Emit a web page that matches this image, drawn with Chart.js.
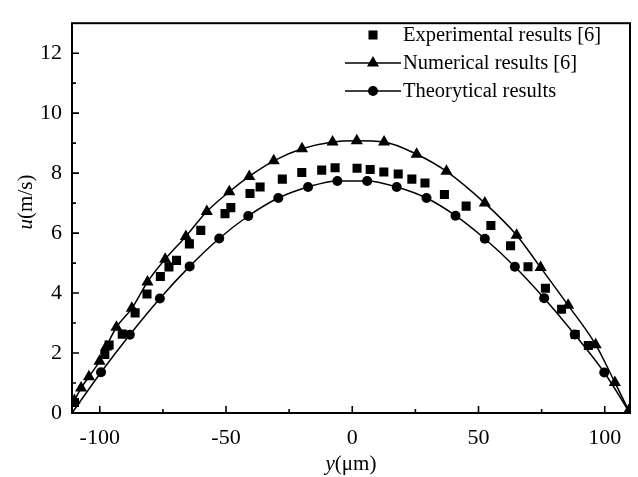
<!DOCTYPE html>
<html lang="en">
<head>
<meta charset="UTF-8">
<title>u - y profile</title>
<style>
  html, body { margin: 0; padding: 0; background: #fff; }
  .wrap { width: 638px; height: 477px; position: relative; }
</style>
</head>
<body>
<div class="wrap"><canvas id="velocityChart"></canvas></div>

<script src="https://cdn.jsdelivr.net/npm/chart.js"></script>
<script>
    // axis ticks
    const xTicks = [-100, -50, 0, 50, 100];
    const xMinorTicks = [-75, -25, 25, 75];
    const yTicks = [0, 2, 4, 6, 8, 10, 12];
    const yMinorTicks = [1, 3, 5, 7, 9, 11];

    const seriesLabels = ['Experimental results [6]', 'Numerical results [6]', 'Theorytical results'];

    // Experimental results [6]  (y in um, u in m/s)
    const expY = [-110, -98, -96.3, -91.1, -86, -81.3, -76, -72.6, -69.6, -64.5, -60, -50.4, -48.1, -40.5, -36.5,
                  -27.7, -20, -12.1, -6.8, 1.9, 7.1, 12.5, 18.2, 23.6, 28.8, 36.5, 45.1, 54.9, 62.7, 69.6,
                  76.5, 82.9, 88.3, 93.5];
    const expU = [0.35, 1.95, 2.27, 2.63, 3.34, 3.97, 4.55, 4.87, 5.09, 5.64, 6.09, 6.65, 6.85, 7.32, 7.54,
                  7.8, 8.02, 8.1, 8.18, 8.16, 8.12, 8.04, 7.97, 7.8, 7.67, 7.29, 6.9, 6.25, 5.58, 4.88,
                  4.16, 3.46, 2.62, 2.25];

    // Numerical results [6]
    const numY = [-110, -107.4, -104.3, -100.1, -97.5, -93.4, -87.3, -81.1, -74.1, -65.9, -57.6, -48.7, -40.8,
                  -31.1, -19.9, -7.8, 1.8, 12.6, 25.5, 37.3, 52.5, 65.1, 74.6, 85.5, 96.4, 104, 109.5];
    const numU = [0.42, 0.83, 1.21, 1.73, 2.2, 2.86, 3.49, 4.37, 5.13, 5.89, 6.72, 7.38, 7.89,
                  8.41, 8.81, 9.04, 9.08, 9.04, 8.63, 8.06, 7.0, 5.93, 4.85, 3.59, 2.28, 1.02, 0.08];

    // Theorytical results (first and last are the line ends, no marker)
    const theoY = [-111, -99.5, -88.1, -76.2, -64.4, -52.7, -41.2, -29.3, -17.5, -5.9,
                   5.9, 17.6, 29.4, 40.9, 52.5, 64.4, 76.0, 88.1, 99.8, 110];
    const theoU = [0, 1.36, 2.61, 3.82, 4.89, 5.82, 6.57, 7.17, 7.54, 7.74,
                   7.74, 7.54, 7.17, 6.58, 5.81, 4.88, 3.83, 2.62, 1.35, 0];

    const serif = '"Liberation Serif", "Times New Roman", serif';
    const toPoints = (xs, ys) => xs.map((x, i) => ({ x: x, y: ys[i] }));

    // writes text made of parts with different font styles, centred on (cx, cy)
    function drawMixed(ctx, parts, cx, cy) {
        let total = 0;
        parts.forEach(p => { ctx.font = p.font; total += ctx.measureText(p.text).width; });
        let x = cx - total / 2;
        ctx.textAlign = 'left';
        ctx.textBaseline = 'middle';
        parts.forEach(p => {
            ctx.font = p.font;
            ctx.fillText(p.text, x, cy);
            x += ctx.measureText(p.text).width;
        });
    }

    // frame, inward ticks, axis titles and legend
    const framePlugin = {
        id: 'frame',
        afterDraw(chart) {
            const ctx = chart.ctx;
            const a = chart.chartArea;
            const xs = chart.scales.x, ys = chart.scales.y;
            ctx.save();
            ctx.strokeStyle = '#000';
            ctx.fillStyle = '#000';

            ctx.lineWidth = 2;
            ctx.strokeRect(a.left, a.top, a.right - a.left, a.bottom - a.top);

            ctx.lineWidth = 1.6;
            ctx.beginPath();
            xTicks.forEach(v => { const p = xs.getPixelForValue(v); ctx.moveTo(p, a.bottom); ctx.lineTo(p, a.bottom - 7); });
            xMinorTicks.forEach(v => { const p = xs.getPixelForValue(v); ctx.moveTo(p, a.bottom); ctx.lineTo(p, a.bottom - 4); });
            yTicks.forEach(v => { const p = ys.getPixelForValue(v); ctx.moveTo(a.left, p); ctx.lineTo(a.left + 7, p); });
            yMinorTicks.forEach(v => { const p = ys.getPixelForValue(v); ctx.moveTo(a.left, p); ctx.lineTo(a.left + 4, p); });
            ctx.stroke();

            // axis titles
            drawMixed(ctx, [
                { text: 'y', font: 'italic 21px ' + serif },
                { text: '(\u03bcm)', font: '21px ' + serif }
            ], (a.left + a.right) / 2, 464);

            ctx.save();
            ctx.translate(26, 202);
            ctx.rotate(-Math.PI / 2);
            drawMixed(ctx, [
                { text: 'u', font: 'italic 21px ' + serif },
                { text: '(m/s)', font: '21px ' + serif }
            ], 0, 0);
            ctx.restore();

            // legend
            const rowY = [35, 63, 91];
            chart.data.datasets.forEach((ds, i) => {
                const y = rowY[i];
                if (ds.showLine) {
                    ctx.lineWidth = 1.5;
                    ctx.beginPath();
                    ctx.moveTo(345, y);
                    ctx.lineTo(401, y);
                    ctx.stroke();
                }
                Chart.helpers.drawPoint(ctx, {
                    pointStyle: ds.pointStyle, radius: ds.pointRadius instanceof Array ? 5 : ds.pointRadius,
                    rotation: 0, borderWidth: 0
                }, 373, y);
                ctx.font = '20.5px ' + serif;
                ctx.textAlign = 'left';
                ctx.textBaseline = 'middle';
                ctx.fillText(ds.label, 403, y + 1);
            });
            ctx.restore();
        }
    };

    const ctx = document.getElementById('velocityChart').getContext('2d');
    const chart = new Chart(ctx, {
        type: 'scatter',
        data: {
            datasets: [{
                label: seriesLabels[0],
                data: toPoints(expY, expU),
                showLine: false,
                pointStyle: 'rect',
                pointRadius: 6.4,
                pointBorderWidth: 0,
                backgroundColor: '#000',
                borderColor: '#000'
            }, {
                label: seriesLabels[1],
                data: toPoints(numY, numU),
                showLine: true,
                cubicInterpolationMode: 'monotone',
                borderWidth: 1.5,
                pointStyle: 'triangle',
                pointRadius: 7,
                pointBorderWidth: 0,
                backgroundColor: '#000',
                borderColor: '#000'
            }, {
                label: seriesLabels[2],
                data: toPoints(theoY, theoU),
                showLine: true,
                cubicInterpolationMode: 'monotone',
                borderWidth: 1.5,
                pointStyle: 'circle',
                pointRadius: theoY.map((v, i) => (i === 0 || i === theoY.length - 1) ? 0 : 5),
                pointBorderWidth: 0,
                backgroundColor: '#000',
                borderColor: '#000'
            }]
        },
        options: {
            responsive: true,
            maintainAspectRatio: false,
            animation: false,
            devicePixelRatio: 1,
            layout: { padding: { top: 10, right: 8, left: 0, bottom: 0 } },
            plugins: {
                legend: { display: false },
                tooltip: { enabled: false }
            },
            scales: {
                x: {
                    type: 'linear',
                    min: -111,
                    max: 110,
                    grid: { display: false, drawTicks: false },
                    border: { display: false },
                    ticks: { color: '#000', font: { family: serif, size: 22 }, padding: 12, maxRotation: 0 },
                    afterBuildTicks: s => { s.ticks = xTicks.map(v => ({ value: v })); },
                    afterFit: s => { s.height = 64; }
                },
                y: {
                    type: 'linear',
                    min: 0,
                    max: 13,
                    grid: { display: false, drawTicks: false },
                    border: { display: false },
                    ticks: { color: '#000', font: { family: serif, size: 22 }, padding: 10 },
                    afterBuildTicks: s => { s.ticks = yTicks.map(v => ({ value: v })); },
                    afterFit: s => { s.width = 72; }
                }
            }
        },
        plugins: [framePlugin]
    });
</script>
</body>
</html>
